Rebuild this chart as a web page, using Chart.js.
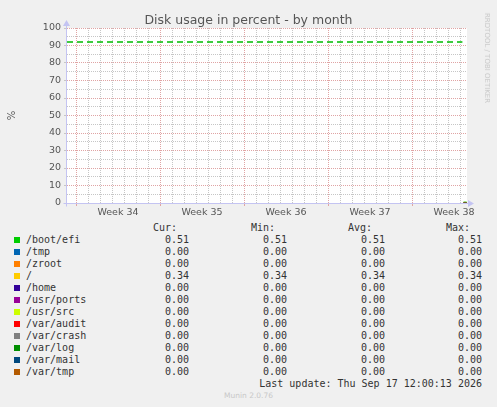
<!DOCTYPE html>
<html>
<head>
<meta charset="utf-8">
<script src="https://cdn.jsdelivr.net/npm/chart.js@4/dist/chart.umd.min.js"></script>
<style>
  body { margin: 0; background: #f0f0f0; width: 497px; height: 407px; overflow: hidden; position: relative; font-family: 'DejaVu Sans', sans-serif; }
  #wrap { position: absolute; left: 0; top: 0; width: 497px; height: 220px; }
  .title { position: absolute; left: 0; width: 497px; top: 12px; text-align: center; font-size: 12.5px; color: #555; }
  .credit { position: absolute; left: 487px; top: 58px; transform: translate(-50%, -50%) rotate(90deg); font-size: 7px; color: #c8c8c8; white-space: nowrap; }
  .leg { position: absolute; font-family: 'DejaVu Sans Mono', monospace; font-size: 10px; color: #333; white-space: nowrap; line-height: 12px; }
  .sw { position: absolute; width: 6px; height: 6px; }
  .munin { position: absolute; left: 0; width: 497px; top: 391px; text-align: center; font-size: 7.5px; color: #c8c8c8; }
</style>
</head>
<body>
<div id="wrap"><canvas id="chart"></canvas></div>
<div class="title">Disk usage in percent - by month</div>
<div class="credit">RRDTOOL / TOBI OETIKER</div>
<div id="legend"></div>
<div class="munin">Munin 2.0.76</div>
<script>
// ==================== DATA ====================
const fields = ['/boot/efi', '/tmp', '/zroot', '/', '/home', '/usr/ports', '/usr/src', '/var/audit', '/var/crash', '/var/log', '/var/mail', '/var/tmp'];
const colors = ['#00cc00', '#0066b3', '#ff8000', '#ffcc00', '#330099', '#990099', '#ccff00', '#ff0000', '#808080', '#008f00', '#00487d', '#b35a00'];
const curVals = [0.51, 0.00, 0.00, 0.34, 0.00, 0.00, 0.00, 0.00, 0.00, 0.00, 0.00, 0.00];
const minVals = [0.51, 0.00, 0.00, 0.34, 0.00, 0.00, 0.00, 0.00, 0.00, 0.00, 0.00, 0.00];
const avgVals = [0.51, 0.00, 0.00, 0.34, 0.00, 0.00, 0.00, 0.00, 0.00, 0.00, 0.00, 0.00];
const maxVals = [0.51, 0.00, 0.00, 0.34, 0.00, 0.00, 0.00, 0.00, 0.00, 0.00, 0.00, 0.00];
const columns = ['Cur:', 'Min:', 'Avg:', 'Max:'];
const weekLabels = ['Week 34', 'Week 35', 'Week 36', 'Week 37', 'Week 38'];
const lastUpdate = 'Last update: Thu Sep 17 12:00:13 2026';

// time axis in days from the left edge of the graph
const xMax = 33.333;
const firstMonday = 0.75;          // first week boundary
const sampleTimes = [33.05, 33.3]; // samples only exist at the very end
const warnTimes = [0, 32.95];
const warnLevel = 92;

// ==================== LEGEND ====================
const legend = document.getElementById('legend');
const colRight = [189, 287, 385, 482];
const headRight = [177, 275, 372, 470];
const rowY = 234;
const rowH = 12;

function addText(txt, top, opts) {
  const s = document.createElement('span');
  s.className = 'leg';
  s.textContent = txt;
  s.style.top = top + 'px';
  if (opts.left !== undefined) s.style.left = opts.left + 'px';
  if (opts.right !== undefined) s.style.right = (497 - opts.right) + 'px';
  legend.appendChild(s);
}

columns.forEach((c, i) => addText(c, rowY - rowH, { right: headRight[i] }));
fields.forEach((f, i) => {
  const top = rowY + i * rowH;
  const sw = document.createElement('div');
  sw.className = 'sw';
  sw.style.left = '14px';
  sw.style.top = (top + 3) + 'px';
  sw.style.background = colors[i];
  legend.appendChild(sw);
  addText(f, top, { left: 26 });
  [curVals, minVals, avgVals, maxVals].forEach((arr, j) => addText(arr[i].toFixed(2), top, { right: colRight[j] }));
});
addText(lastUpdate, rowY + fields.length * rowH, { right: 482 });

// ==================== CHART ====================
const weekTicks = weekLabels.map((l, i) => firstMonday + 3.5 + i * 7);
const isLabelTick = v => weekTicks.some(w => Math.abs(w - v) < 1e-6);
const isWeekLine = v => Math.abs(((v - firstMonday) % 7)) < 1e-6;

const minorGrid = '#c6c6c6';
const majorGrid = '#e0a4a4';
const axisColor = '#c4c4f2';
const tickFont = { family: "'DejaVu Sans', sans-serif", size: 9.5 };

const datasets = [{
  label: 'warning',
  data: warnTimes.map(t => ({ x: t, y: warnLevel })),
  borderColor: '#00bb00',
  borderWidth: 1.5,
  borderDash: [6, 4],
  pointRadius: 0
}].concat(fields.map((f, i) => ({
  label: f,
  data: sampleTimes.map(t => ({ x: t, y: curVals[i] })),
  borderColor: colors[i],
  borderWidth: 1,
  pointRadius: 0,
  order: fields.length - i
})));

const framePlugin = {
  id: 'frame',
  beforeDraw(chart) {
    const { ctx, chartArea: a } = chart;
    ctx.save();
    ctx.fillStyle = '#ffffff';
    ctx.fillRect(a.left, a.top, a.right - a.left, a.bottom - a.top);
    ctx.restore();
  },
  afterDraw(chart) {
    const { ctx, chartArea: a } = chart;
    const y0 = a.bottom + 0.5, x0 = a.left - 0.5;
    ctx.save();
    ctx.strokeStyle = axisColor;
    ctx.fillStyle = axisColor;
    ctx.lineWidth = 1;
    ctx.beginPath();
    ctx.moveTo(x0 - 3, y0); ctx.lineTo(a.right + 2, y0);
    ctx.moveTo(x0, y0 + 3); ctx.lineTo(x0, a.top - 3);
    ctx.stroke();
    // arrow heads
    ctx.beginPath();
    ctx.moveTo(a.right + 7, y0); ctx.lineTo(a.right + 1, y0 - 3.5); ctx.lineTo(a.right + 1, y0 + 3.5);
    ctx.closePath(); ctx.fill();
    ctx.beginPath();
    ctx.moveTo(x0, a.top - 8); ctx.lineTo(x0 - 3.5, a.top - 2); ctx.lineTo(x0 + 3.5, a.top - 2);
    ctx.closePath(); ctx.fill();
    ctx.restore();
  }
};

new Chart(document.getElementById('chart'), {
  type: 'line',
  data: { datasets },
  plugins: [framePlugin],
  options: {
    responsive: true,
    maintainAspectRatio: false,
    animation: false,
    layout: { padding: { left: 0, top: 28, right: 30, bottom: 0 } },
    plugins: { legend: { display: false }, tooltip: { enabled: false } },
    scales: {
      x: {
        type: 'linear',
        min: 0,
        max: xMax,
        afterFit: s => { s.height = 17; },
        afterBuildTicks: s => {
          const t = [];
          for (let d = firstMonday; d < xMax; d += 1) t.push({ value: d });
          weekTicks.forEach(w => t.push({ value: w }));
          t.sort((p, q) => p.value - q.value);
          s.ticks = t;
        },
        border: { display: false, dash: [1, 1] },
        grid: {
          color: c => isLabelTick(c.tick.value) ? 'rgba(0,0,0,0)' : (isWeekLine(c.tick.value) ? majorGrid : minorGrid),
          tickColor: c => isWeekLine(c.tick.value) ? majorGrid : 'rgba(0,0,0,0)',
          tickLength: 3,
          lineWidth: 1
        },
        ticks: {
          autoSkip: false,
          maxRotation: 0,
          padding: 1,
          color: '#555',
          font: tickFont,
          callback: v => {
            const k = weekTicks.findIndex(w => Math.abs(w - v) < 1e-6);
            return k >= 0 ? weekLabels[k] : '';
          }
        }
      },
      y: {
        min: 0,
        max: 100,
        afterFit: s => { s.width = 67; },
        border: { display: false, dash: [1, 1] },
        grid: {
          color: c => c.tick.value % 10 === 0 ? majorGrid : minorGrid,
          tickColor: c => c.tick.value % 10 === 0 ? minorGrid : 'rgba(0,0,0,0)',
          tickLength: 3,
          lineWidth: 1
        },
        ticks: {
          stepSize: 5,
          autoSkip: false,
          padding: 3,
          color: '#555',
          font: tickFont,
          callback: v => v % 10 === 0 ? String(v) : ''
        },
        title: {
          display: true,
          text: '%',
          color: '#555',
          font: { family: "'DejaVu Sans', sans-serif", size: 10 },
          padding: { top: 6, bottom: 0 }
        }
      }
    }
  }
});
</script>
</body>
</html>
